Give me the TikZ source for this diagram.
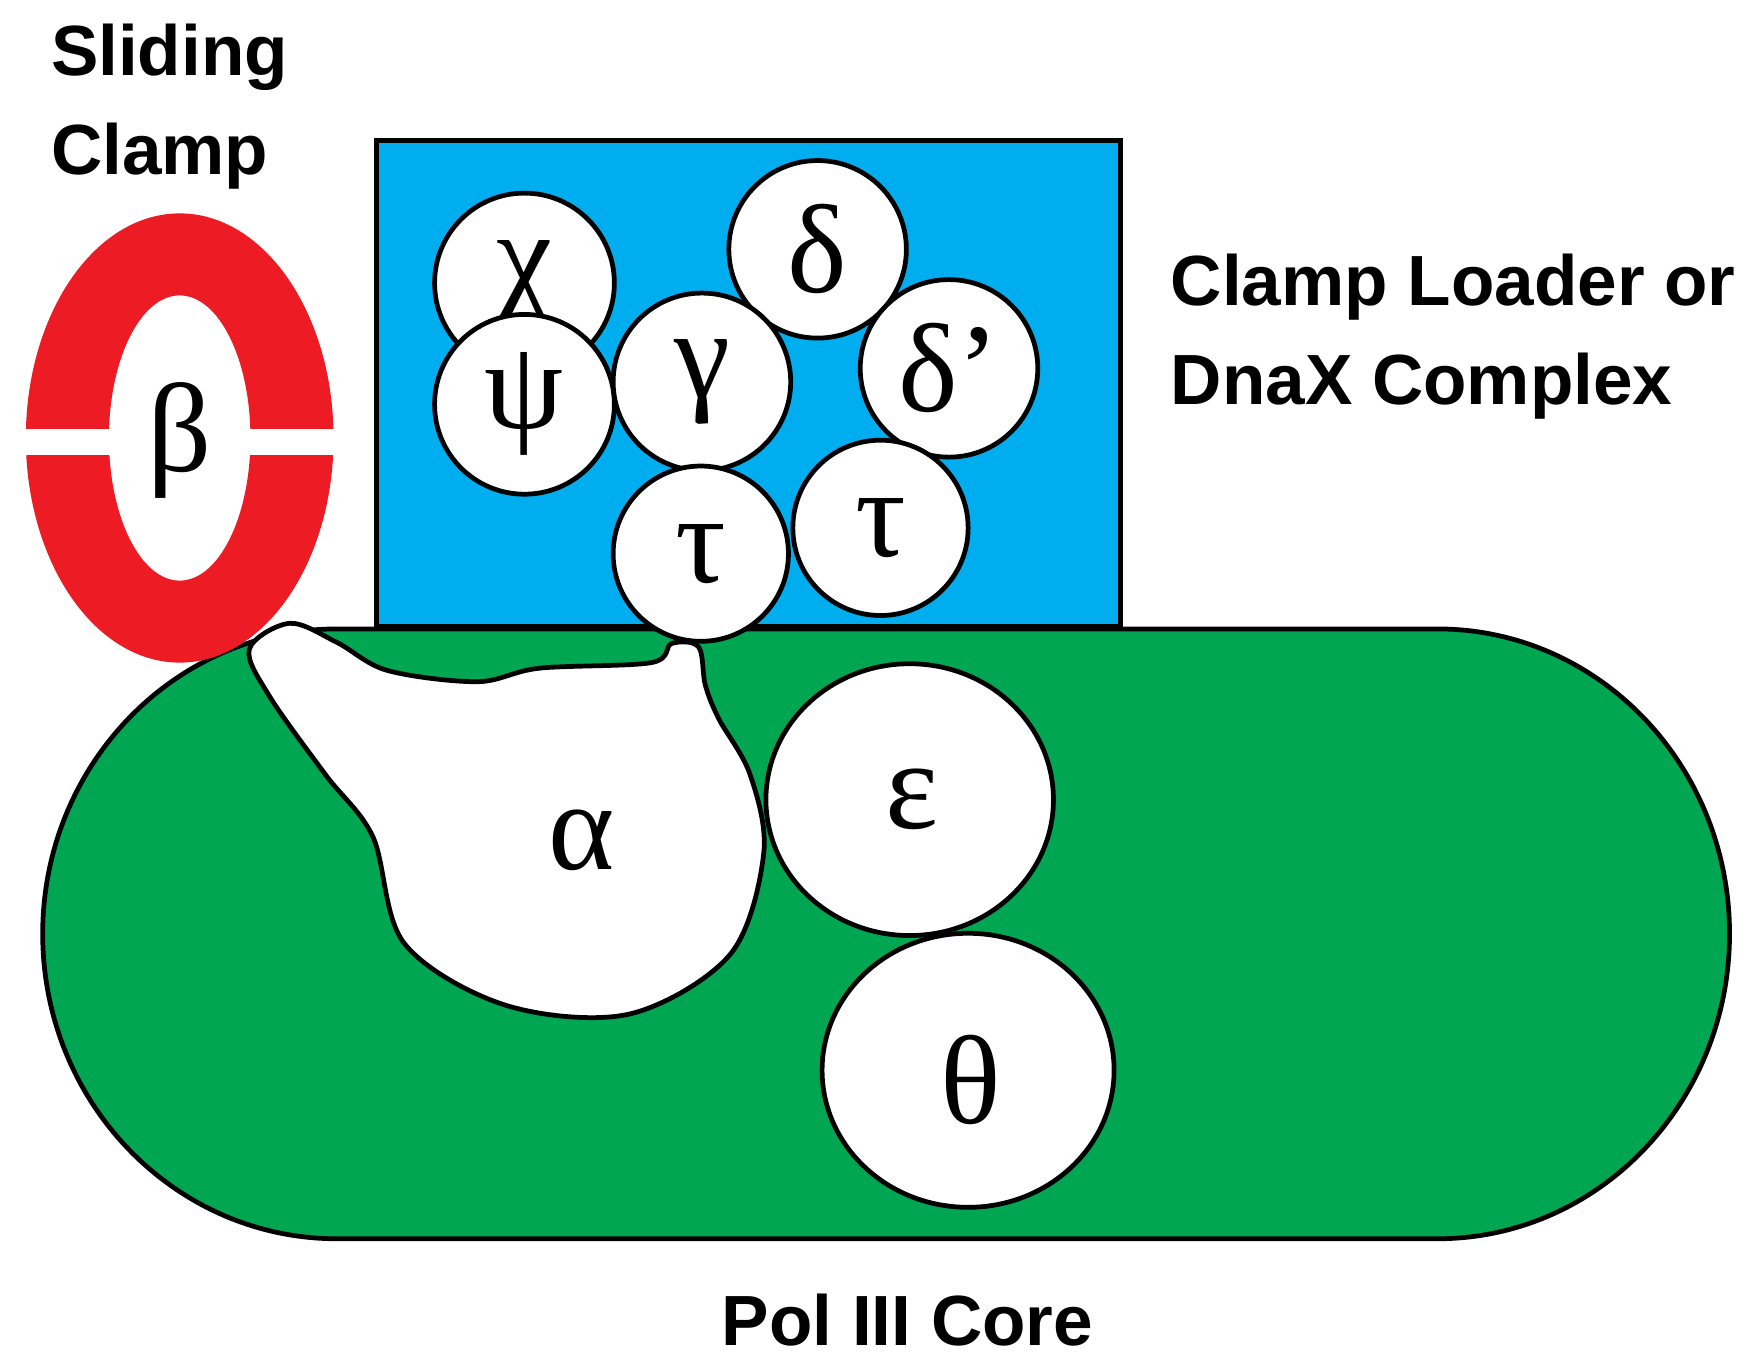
\documentclass[tikz,border=0pt]{standalone}
\usepackage{fontspec}
\setmainfont{Liberation Serif}
\newfontfamily\lsans{Liberation Sans}
\definecolor{cblue}{HTML}{00AEEF}
\definecolor{cgreen}{HTML}{00A651}
\definecolor{cred}{HTML}{ED1C24}
\begin{document}
\begin{tikzpicture}[x=0.01cm,y=-0.01cm,
  sub/.style={circle,draw=black,line width=1.2pt,fill=white,inner sep=0pt},
  gl/.style={font=\fontsize{32}{34}\selectfont},
  lab/.style={font=\lsans\bfseries\fontsize{18}{22}\selectfont,align=left}]
\useasboundingbox (0,0) rectangle (1560,1212);
% blue box
\path[draw=black,line width=1.2pt,fill=cblue] (335,125) rectangle (998,558);
% green stadium
\path[draw=black,line width=1.2pt,fill=cgreen] (300,560) -- (1280,560)
  arc[start angle=90,end angle=-90,x radius=260,y radius=-271.5] -- (300,1103)
  arc[start angle=270,end angle=90,x radius=262,y radius=-271.5] -- cycle;
% red ring
\path[fill=cred,even odd rule] (160,390) ellipse[x radius=137,y radius=200] (160,390) ellipse[x radius=63,y radius=127];
\fill[white] (20,382) rectangle (300,405);
\node[gl] (beta) at (160,392) {β};
% alpha blob
\path[draw=black,line width=1.2pt,fill=white] plot[smooth cycle,tension=0.55] coordinates {
 (222,578) (258,555) (300,572) (345,597) (425,607) (480,595) (580,590) (598,573) (622,576) (628,610) (640,640)
 (668,690) (680,760) (650,850) (560,903) (450,895) (360,840) (332,745) (290,690) (240,620)};
\node[gl] (alpha) at (518,748) {α};
% subunits
\node[sub,minimum size=1.6cm] (chi) at (467,252) {}; \node[gl] at (chi) {χ};
\node[sub,minimum size=1.6cm] (psi) at (467,360) {}; \node[gl] at (psi) {ψ};
\node[sub,minimum size=1.58cm] (delta) at (728,222) {}; \node[gl] at (delta) {δ};
\node[sub,minimum size=1.58cm] (gamma) at (625,340) {}; \node[gl] at (gamma) {γ};
\node[sub,minimum size=1.58cm] (deltap) at (845,328) {}; \node[gl] at (deltap) {δ’};
\node[sub,minimum size=1.56cm] (tau1) at (624,493) {}; \node[gl] at (tau1) {τ};
\node[sub,minimum size=1.56cm] (tau2) at (784,470) {}; \node[gl] at (tau2) {τ};
\draw[line width=1.2pt,fill=white] (810,712) ellipse[x radius=128,y radius=121];
\node[gl] (eps) at (812,712) {ε};
\draw[line width=1.2pt,fill=white] (862,953) ellipse[x radius=130,y radius=122];
\node[gl] (theta) at (864,962) {θ};
% labels
\node[lab,anchor=west] (sc) at (33,95) {Sliding\\[3pt]Clamp};
\node[lab,anchor=west] (cl) at (1030,300) {Clamp Loader or\\[3pt]DnaX Complex};
\node[lab] (core) at (808,1175) {Pol III Core};
\end{tikzpicture}
\end{document}
